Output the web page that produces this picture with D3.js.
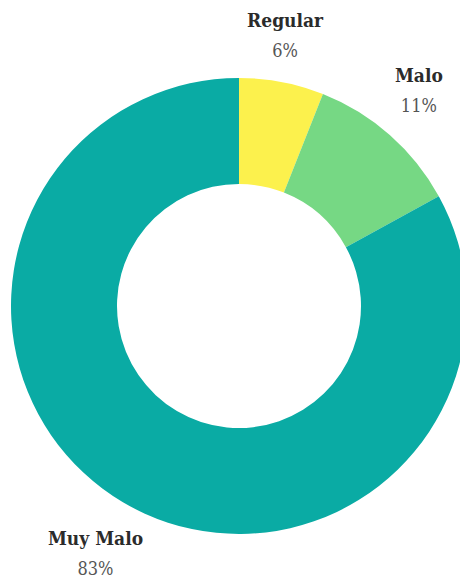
<!DOCTYPE html>
<html>
<head>
<meta charset="utf-8">
<script src="https://cdn.jsdelivr.net/npm/d3@7"></script>
<style>
  body { margin: 0; background: #fff; }
  .name { font-family: "DejaVu Serif Condensed", "DejaVu Serif", serif; font-stretch: condensed; font-weight: bold; font-size: 19px; fill: #2b2b2b; }
  .pct { font-family: "DejaVu Serif Condensed", "DejaVu Serif", serif; font-stretch: condensed; font-size: 18px; fill: #555; }
</style>
</head>
<body>
<div id="chart"></div>
<script>
// data
var categories = ["Regular", "Malo", "Muy Malo"];
var percents = [6, 11, 83];
var colors = ["#fcf14d", "#76d884", "#0aaba4"];

var svgWidth = 460, svgHeight = 582;
var cx = 239, cy = 306;
var outerR = 228, innerR = 122;
// small nudges so the labels sit where the original put them
var labelNudge = [[-6, 2], [-4, -7], [-2, 8]];

var svg = d3.select("#chart").append("svg")
    .attr("width", svgWidth)
    .attr("height", svgHeight);

var chartGroup = svg.append("g")
    .attr("transform", `translate(${cx}, ${cy})`);

var pie = d3.pie().sort(null).value(function(d) { return d; });
var arcs = pie(percents);

var arc = d3.arc().innerRadius(innerR).outerRadius(outerR);
var labelArc = d3.arc().innerRadius(278).outerRadius(278);

chartGroup.selectAll("path.slice")
    .data(arcs)
    .enter().append("path")
    .attr("class", "slice")
    .attr("d", arc)
    .attr("fill", function(d, i) { return colors[i]; });

var labels = chartGroup.selectAll("g.label")
    .data(arcs)
    .enter().append("g")
    .attr("class", "label")
    .attr("transform", function(d, i) {
        var c = labelArc.centroid(d);
        return `translate(${c[0] + labelNudge[i][0]}, ${c[1] + labelNudge[i][1]})`;
    });

labels.append("text")
    .attr("class", "name")
    .attr("text-anchor", "middle")
    .attr("y", -8)
    .text(function(d, i) { return categories[i]; });

labels.append("text")
    .attr("class", "pct")
    .attr("text-anchor", "middle")
    .attr("y", 22)
    .text(function(d, i) { return percents[i] + "%"; });
</script>
</body>
</html>
